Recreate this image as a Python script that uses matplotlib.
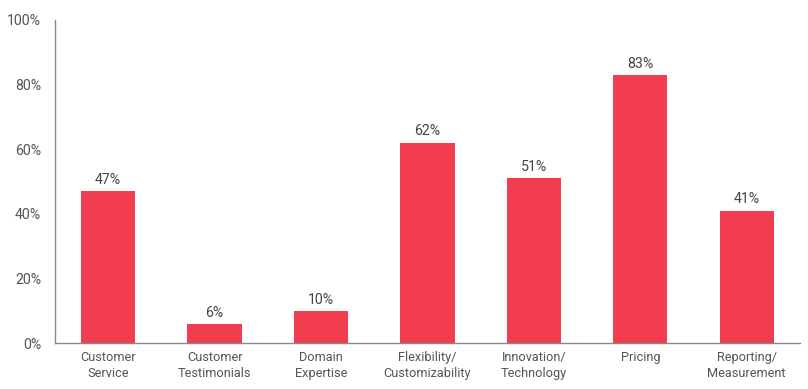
import matplotlib
matplotlib.use('Agg')
import matplotlib.pyplot as plt
from matplotlib.ticker import FuncFormatter

# data
categories = ['Customer\nService', 'Customer\nTestimonials', 'Domain\nExpertise',
              'Flexibility/\nCustomizability', 'Innovation/\nTechnology',
              'Pricing', 'Reporting/\nMeasurement']
values = [47, 6, 10, 62, 51, 83, 41]
yticks = [0, 20, 40, 60, 80, 100]

plt.rcParams['font.family'] = ['Roboto', 'DejaVu Sans']
text_color = '#555555'
bar_color = '#F23C50'

fig = plt.figure(figsize=(8.08, 3.89), dpi=100)
ax = fig.add_axes([0.068, 0.118, 0.922, 0.831])

x = range(len(categories))
bars = ax.bar(x, values, width=0.51, color=bar_color)

# value labels above the bars
for b, v in zip(bars, values):
    ax.text(b.get_x() + b.get_width() / 2, v + 1.3, '{}%'.format(v),
            ha='center', va='bottom', fontsize=10.2, color='#444444')

ax.set_xlim(-0.5, len(categories) - 0.5)
ax.set_ylim(0, 100)
ax.set_yticks(yticks)
ax.yaxis.set_major_formatter(FuncFormatter(lambda v, p: '{:.0f}%'.format(v)))
ax.set_xticks(list(x))
ax.set_xticklabels(categories, fontsize=9.2, color=text_color, linespacing=1.25)
ax.tick_params(axis='y', labelsize=10.2, labelcolor=text_color, length=0, pad=10)
ax.tick_params(axis='x', length=0, pad=6)

for s in ['top', 'right']:
    ax.spines[s].set_visible(False)
for s in ['left', 'bottom']:
    ax.spines[s].set_color('#888888')
    ax.spines[s].set_linewidth(1.0)

fig.savefig('out.png', dpi=100)
